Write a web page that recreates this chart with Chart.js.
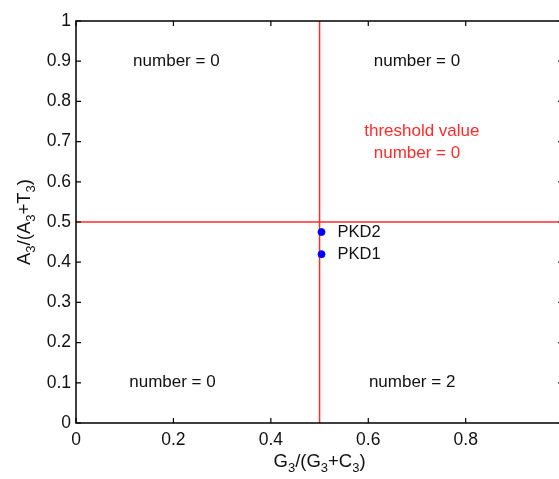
<!DOCTYPE html>
<html>
<head>
<meta charset="utf-8">
<script src="https://cdn.jsdelivr.net/npm/chart.js@4.4.1/dist/chart.umd.min.js"></script>
<style>
  html, body { margin: 0; padding: 0; background: #fff; overflow: hidden; }
  #wrap { width: 559px; height: 479px; overflow: hidden; }
  canvas { display: block; }
</style>
</head>
<body>
<div id="wrap"><canvas id="chart" width="575" height="479"></canvas></div>
<script>
// data
const pointNames = ["PKD2", "PKD1"];
const gcRatio = [0.504, 0.504];
const atRatio = [0.475, 0.42];
const threshold = 0.5;

const xTicks = [0, 0.2, 0.4, 0.6, 0.8, 1];
const yTicks = [0, 0.1, 0.2, 0.3, 0.4, 0.5, 0.6, 0.7, 0.8, 0.9, 1];

// region notes (data coords)
const noteText = ["number = 0", "number = 0", "threshold value", "number = 0", "number = 0", "number = 2"];
const noteX = [0.206, 0.70, 0.71, 0.70, 0.198, 0.69];
const noteY = [0.90, 0.90, 0.725, 0.67, 0.10, 0.10];
const noteRed = [false, false, true, true, false, false];

const FONT = "Liberation Sans, Arial, sans-serif";
const RED = "#ff2a2a";

// draw text made of [text, isSub] parts, centered at x
function drawSub(ctx, parts, x, y) {
  const big = "18.5px " + FONT, small = "13px " + FONT;
  let w = 0;
  parts.forEach((p) => {
    ctx.font = p[1] ? small : big;
    w += ctx.measureText(p[0]).width;
  });
  let cx = x - w / 2;
  ctx.textAlign = "left";
  ctx.textBaseline = "middle";
  parts.forEach((p) => {
    ctx.font = p[1] ? small : big;
    ctx.fillText(p[0], cx, p[1] ? y + 6 : y);
    cx += ctx.measureText(p[0]).width;
  });
}

const decor = {
  id: "decor",
  afterDraw(chart) {
    const ctx = chart.ctx;
    const a = chart.chartArea;
    const xs = chart.scales.x, ys = chart.scales.y;
    ctx.save();

    // frame
    ctx.strokeStyle = "#000";
    ctx.lineWidth = 1.5;
    ctx.strokeRect(a.left, a.top, a.right - a.left, a.bottom - a.top);

    // inward ticks, all four sides
    ctx.lineWidth = 1.2;
    ctx.beginPath();
    xTicks.forEach((v) => {
      const px = xs.getPixelForValue(v);
      ctx.moveTo(px, a.bottom); ctx.lineTo(px, a.bottom - 5);
      ctx.moveTo(px, a.top); ctx.lineTo(px, a.top + 5);
    });
    yTicks.forEach((v) => {
      const py = ys.getPixelForValue(v);
      ctx.moveTo(a.left, py); ctx.lineTo(a.left + 5, py);
      ctx.moveTo(a.right, py); ctx.lineTo(a.right - 5, py);
    });
    ctx.stroke();

    // region notes
    ctx.font = "17px " + FONT;
    ctx.textAlign = "center";
    ctx.textBaseline = "middle";
    noteText.forEach((t, i) => {
      ctx.fillStyle = noteRed[i] ? RED : "#111";
      ctx.fillText(t, xs.getPixelForValue(noteX[i]), ys.getPixelForValue(noteY[i]));
    });

    // point names
    ctx.fillStyle = "#111";
    ctx.textAlign = "left";
    ctx.font = "16.5px " + FONT;
    pointNames.forEach((n, i) => {
      ctx.fillText(n, xs.getPixelForValue(gcRatio[i]) + 16, ys.getPixelForValue(atRatio[i]));
    });

    // axis titles
    ctx.fillStyle = "#111";
    drawSub(ctx, [["G", 0], ["3", 1], ["/(G", 0], ["3", 1], ["+C", 0], ["3", 1], [")", 0]],
      (a.left + a.right) / 2, 462);
    ctx.translate(25, (a.top + a.bottom) / 2);
    ctx.rotate(-Math.PI / 2);
    drawSub(ctx, [["A", 0], ["3", 1], ["/(A", 0], ["3", 1], ["+T", 0], ["3", 1], [")", 0]], 0, 0);
    ctx.restore();
  }
};

new Chart(document.getElementById("chart"), {
  type: "scatter",
  data: {
    datasets: [
      {
        data: gcRatio.map((x, i) => ({ x: x, y: atRatio[i] })),
        backgroundColor: "#0000ff",
        borderColor: "#0000ff",
        pointRadius: 3.5,
        order: 0
      },
      {
        type: "line",
        data: [{ x: threshold, y: 0 }, { x: threshold, y: 1 }],
        borderColor: RED,
        borderWidth: 1.5,
        pointRadius: 0,
        order: 1
      },
      {
        type: "line",
        data: [{ x: 0, y: threshold }, { x: 1, y: threshold }],
        borderColor: RED,
        borderWidth: 1.5,
        pointRadius: 0,
        order: 1
      }
    ]
  },
  options: {
    responsive: false,
    animation: false,
    layout: { padding: { top: 21, right: 9, left: 0, bottom: 0 } },
    plugins: { legend: { display: false }, tooltip: { enabled: false } },
    scales: {
      x: {
        type: "linear",
        min: 0,
        max: 1,
        afterBuildTicks: (s) => { s.ticks = xTicks.map((v) => ({ value: v })); },
        afterFit: (s) => { s.height = 56; },
        grid: { display: false, drawTicks: false },
        border: { display: false },
        ticks: {
          color: "#111",
          padding: 7,
          maxRotation: 0,
          font: { family: FONT, size: 17.5 },
          callback: (v) => String(v)
        }
      },
      y: {
        type: "linear",
        min: 0,
        max: 1,
        afterBuildTicks: (s) => { s.ticks = yTicks.map((v) => ({ value: v })); },
        afterFit: (s) => { s.width = 76; },
        grid: { display: false, drawTicks: false },
        border: { display: false },
        ticks: {
          color: "#111",
          padding: 5,
          font: { family: FONT, size: 17.5 },
          callback: (v) => String(v)
        }
      }
    }
  },
  plugins: [decor]
});
</script>
</body>
</html>
